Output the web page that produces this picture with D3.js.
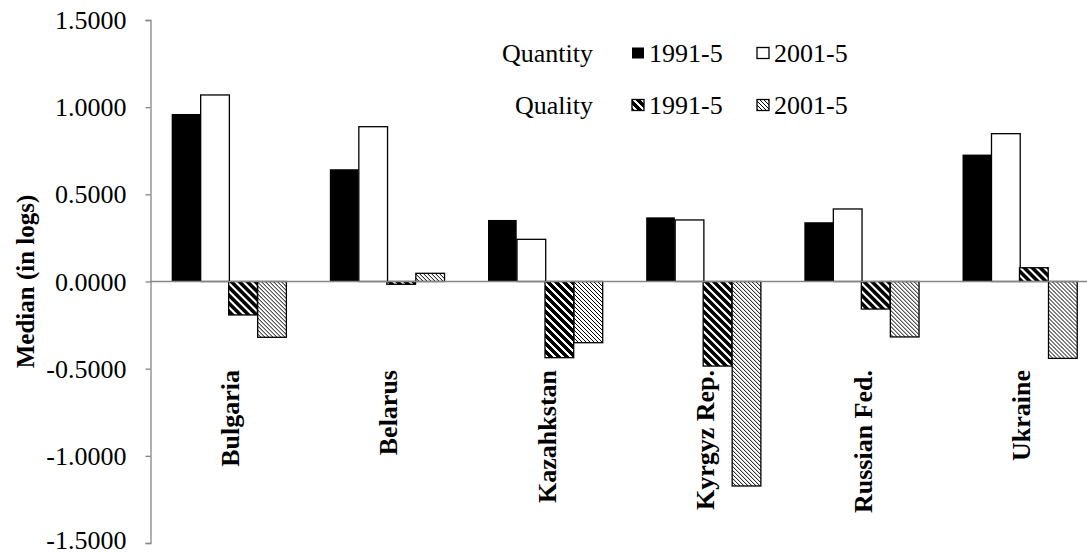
<!DOCTYPE html>
<html>
<head>
<meta charset="utf-8">
<script src="https://cdn.jsdelivr.net/npm/d3@7"></script>
<style>
  html, body { margin: 0; padding: 0; background: #fff; }
  svg { display: block; }
  text { font-family: "Liberation Serif", "Times New Roman", Tinos, "DejaVu Serif", serif; fill: #000; }
</style>
</head>
<body>
<svg id="chart" width="1087" height="554"></svg>
<script>
// ---- data ----
const categories = ["Bulgaria", "Belarus", "Kazahkstan", "Kyrgyz Rep.", "Russian Fed.", "Ukraine"];
const seriesNames = ["Quantity 1991-5", "Quantity 2001-5", "Quality 1991-5", "Quality 2001-5"];
const quantity1991 = [0.961, 0.644, 0.353, 0.368, 0.340, 0.728];
const quantity2001 = [1.070, 0.888, 0.242, 0.353, 0.416, 0.848];
const quality1991  = [-0.192, -0.016, -0.437, -0.485, -0.158, 0.079];
const quality2001  = [-0.320, 0.047, -0.351, -1.173, -0.318, -0.441];
const tickValues = [-1.5, -1.0, -0.5, 0.0, 0.5, 1.0, 1.5];
const tickLabels = ["-1.5000", "-1.0000", "-0.5000", "0.0000", "0.5000", "1.0000", "1.5000"];
const yTitle = "Median (in logs)";
const legendRows = ["Quantity", "Quality"];
const legendCols = ["1991-5", "2001-5"];

const seriesValues = [quantity1991, quantity2001, quality1991, quality2001];

const svg = d3.select("#chart");
const defs = svg.append("defs");

// pixel patterns (downward diagonals)
function diagPattern(id, period, black) {
  const p = defs.append("pattern").attr("id", id)
    .attr("patternUnits", "userSpaceOnUse").attr("width", period).attr("height", period);
  p.append("rect").attr("width", period).attr("height", period).attr("fill", "#fff");
  const g = p.append("g").attr("shape-rendering", "crispEdges");
  d3.range(period).forEach(r => {
    d3.range(black).forEach(j => {
      const c = (r + j) % period;
      g.append("rect").attr("x", c).attr("y", r).attr("width", 1).attr("height", 1).attr("fill", "#000");
    });
  });
}
diagPattern("hatchWide", 8, 5);
diagPattern("hatchThin", 4, 1);

const fills = ["#000", "#fff", "url(#hatchWide)", "url(#hatchThin)"];

// scales
const x0 = d3.scaleBand().domain(categories).range([150, 1099])
  .paddingInner(0.274).paddingOuter(0.137);
const x1 = d3.scaleBand().domain(seriesNames).range([0, x0.bandwidth()]);
const y = d3.scaleLinear().domain([-1.5, 1.5]).range([543, 20]);

// bars
const groups = svg.append("g").selectAll("g").data(categories).join("g")
  .attr("transform", d => `translate(${x0(d)},0)`);
groups.selectAll("rect")
  .data((c, i) => seriesNames.map((s, k) => ({ s, k, v: seriesValues[k][i] })))
  .join("rect")
  .attr("x", d => Math.round(x1(d.s)))
  .attr("width", x1.bandwidth())
  .attr("y", d => y(Math.max(0, d.v)))
  .attr("height", d => Math.abs(y(d.v) - y(0)))
  .attr("fill", d => fills[d.k])
  .attr("stroke", "#000")
  .attr("stroke-width", d => d.k === 0 ? 0 : 1.3);

// y axis
const yAxis = d3.axisLeft(y).tickValues(tickValues)
  .tickFormat((d, i) => tickLabels[i]).tickSize(5).tickSizeOuter(5).tickPadding(19);
const ya = svg.append("g").attr("transform", "translate(150.5,0)").call(yAxis);
ya.attr("font-family", null);
ya.select(".domain").attr("stroke", "#868686").attr("stroke-width", 1.3);
ya.selectAll(".tick line").attr("stroke", "#868686").attr("stroke-width", 1.3);
ya.selectAll(".tick text").style("font-size", "26px")
  .attr("dy", d => d === -1.5 ? "0.2em" : "0.33em").attr("fill", "#000");

// zero line
svg.append("line").attr("x1", 150).attr("x2", 1099)
  .attr("y1", y(0)).attr("y2", y(0)).attr("stroke", "#868686").attr("stroke-width", 1.6);

// category labels
svg.append("g").selectAll("text").data(categories).join("text")
  .attr("transform", d => `translate(${x0(d) + x0.bandwidth() / 2 + 1},370) rotate(-90)`)
  .attr("text-anchor", "end").attr("dy", "0.35em")
  .style("font-size", "26px").style("font-weight", "bold")
  .text(d => d);

// y title
svg.append("text")
  .attr("transform", `translate(25,${y(0)}) rotate(-90)`)
  .attr("text-anchor", "middle").attr("dy", "0.35em")
  .style("font-size", "25px").style("font-weight", "bold")
  .text(yTitle);

// legend
const legY = [53, 105];
const swX = [632, 757];
const lg = svg.append("g");
legendRows.forEach((r, ri) => {
  lg.append("text").attr("x", 593).attr("y", legY[ri]).attr("dy", "0.35em")
    .attr("text-anchor", "end").style("font-size", "26px").text(r);
  legendCols.forEach((c, ci) => {
    const k = ri * 2 + ci;
    lg.append("rect").attr("x", swX[ci]).attr("y", legY[ri] - 5.5)
      .attr("width", 12).attr("height", 11)
      .attr("fill", fills[k]).attr("stroke", "#000").attr("stroke-width", k === 0 ? 0 : 1.3);
    lg.append("text").attr("x", swX[ci] + 17).attr("y", legY[ri]).attr("dy", "0.35em")
      .style("font-size", "26px").text(c);
  });
});
</script>
</body>
</html>
